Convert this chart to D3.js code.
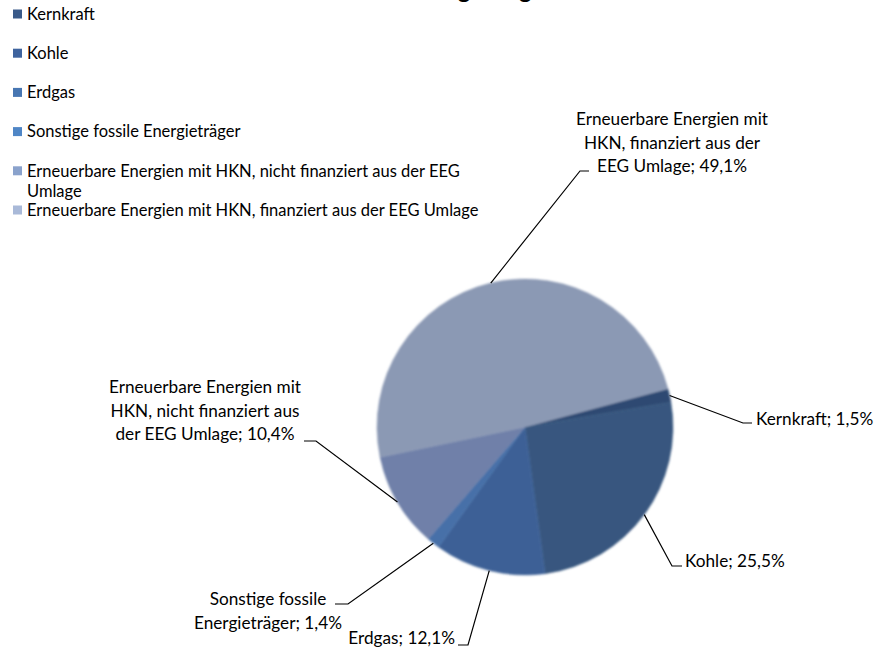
<!DOCTYPE html>
<html lang="de">
<head>
  <meta charset="UTF-8">
  <title>Energieträgermix</title>
  <script src="https://d3js.org/d3.v7.min.js"></script>
  <style>
    html, body { margin: 0; background: #fff; }
    svg { display: block; font-family: Lato, "Open Sans", sans-serif; }
    .legend text { font-size: 16.5px; fill: #000; }
    .label text { font-size: 17.2px; fill: #000; }
  </style>
</head>
<body>
  <svg id="chart" width="884" height="657"></svg>
  <script>
    const categories = [
      "Kernkraft",
      "Kohle",
      "Erdgas",
      "Sonstige fossile Energieträger",
      "Erneuerbare Energien mit HKN, nicht finanziert aus der EEG Umlage",
      "Erneuerbare Energien mit HKN, finanziert aus der EEG Umlage"
    ];
    const shares = [1.5, 25.5, 12.1, 1.4, 10.4, 49.1];
    const title = "Energieträgermix";

    // colours: legend swatches are brighter than the shaded pie
    const legendColors = ["#3a5a89", "#3e639e", "#4776b2", "#4f86c6", "#8aa2cc", "#a9b9d8"];
    const sliceColors = ["#2d4a72", "#37577f", "#3d6196", "#4670a8", "#6f80a9", "#8b99b4"];

    // label layout: text anchor point, knee of leader line, end of leader line
    const labelLayout = [
      { x: 756, y: 419, anchor: "start", wrap: 300, knee: [743, 423], tail: [752, 423] },
      { x: 685, y: 561, anchor: "start", wrap: 300, knee: [672, 566], tail: [682, 566] },
      { x: 455, y: 638, anchor: "end", wrap: 300, knee: [468, 645], tail: [458, 645] },
      { x: 268, y: 599, anchor: "middle", wrap: 175, knee: [348, 604], tail: [335, 604] },
      { x: 205, y: 387, anchor: "middle", wrap: 218, knee: [316, 441], tail: [304, 441] },
      { x: 672, y: 119, anchor: "middle", wrap: 205, knee: [580, 171], tail: [589, 171] }
    ];

    const svg = d3.select("#chart");
    const cx = 525, cy = 427, radius = 148;
    const fmt = v => d3.format(".1f")(v).replace(".", ",") + "%";

    // title, mostly cut off at the top edge
    svg.append("text")
      .attr("x", 409)
      .attr("y", -2)
      .attr("font-size", 24)
      .attr("font-weight", "bold")
      .text(title);

    const defs = svg.append("defs");
    defs.append("filter").attr("id", "soft")
      .append("feGaussianBlur").attr("stdDeviation", 0.9);

    const pie = d3.pie().sort(null)
      .startAngle(75 * Math.PI / 180)
      .endAngle(75 * Math.PI / 180 + 2 * Math.PI);
    const arcs = pie(shares);
    const arc = d3.arc().innerRadius(0).outerRadius(radius);
    const edgeArc = d3.arc().innerRadius(radius).outerRadius(radius);

    const g = svg.append("g").attr("transform", `translate(${cx},${cy})`);
    g.append("g").attr("filter", "url(#soft)")
      .selectAll("path")
      .data(arcs)
      .join("path")
      .attr("d", arc)
      .attr("fill", (d, i) => sliceColors[i])
      .attr("stroke", (d, i) => sliceColors[i])
      .attr("stroke-width", 0.5);

    // leader lines
    svg.append("g")
      .selectAll("polyline")
      .data(arcs)
      .join("polyline")
      .attr("fill", "none")
      .attr("stroke", "#000")
      .attr("stroke-width", 1.2)
      .attr("points", (d, i) => {
        const [px, py] = edgeArc.centroid(d);
        const L = labelLayout[i];
        return [[cx + px, cy + py], L.knee, L.tail].map(p => p.join(",")).join(" ");
      });

    function wrapWords(textSel, words, maxWidth) {
      const lines = [];
      let line = [];
      const probe = textSel.append("tspan");
      words.forEach(w => {
        const test = line.concat(w).join(" ");
        probe.text(test);
        if (probe.node().getComputedTextLength() > maxWidth && line.length) {
          lines.push(line.join(" "));
          line = [w];
        } else {
          line.push(w);
        }
      });
      lines.push(line.join(" "));
      probe.remove();
      return lines;
    }

    // data labels
    const labels = svg.append("g").attr("class", "label");
    arcs.forEach((d, i) => {
      const L = labelLayout[i];
      const t = labels.append("text").attr("text-anchor", L.anchor);
      const lines = wrapWords(t, `${categories[i]}; ${fmt(shares[i])}`.split(" "), L.wrap);
      lines.forEach((ln, k) => {
        t.append("tspan")
          .attr("x", L.x)
          .attr("y", L.y + k * 23.5)
          .attr("dy", "0.35em")
          .text(ln);
      });
    });

    // legend
    const legend = svg.append("g").attr("class", "legend");
    categories.forEach((c, i) => {
      const y = 14 + i * 39.2;
      const row = legend.append("g").attr("transform", `translate(0,${y})`);
      row.append("rect")
        .attr("x", 13).attr("y", -4.5)
        .attr("width", 9).attr("height", 9)
        .attr("fill", legendColors[i]);
      const t = row.append("text");
      const lines = wrapWords(t, c.split(" "), 478);
      lines.forEach((ln, k) => {
        t.append("tspan")
          .attr("x", 27)
          .attr("y", k * 20)
          .attr("dy", "0.35em")
          .text(ln);
      });
    });
  </script>
</body>
</html>
